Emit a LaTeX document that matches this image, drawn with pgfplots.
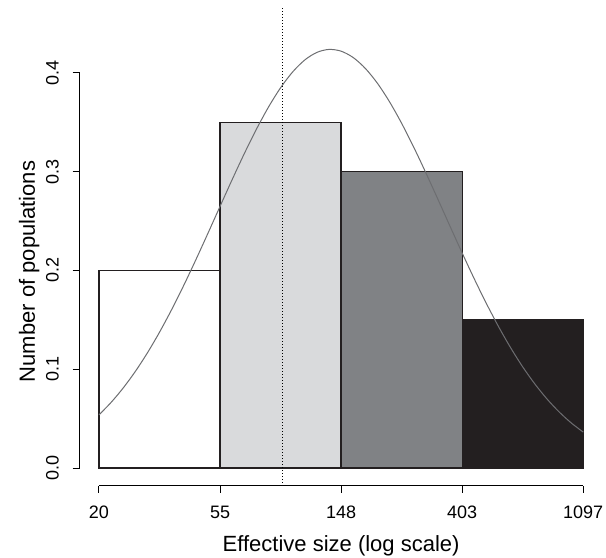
\documentclass[border=0pt]{standalone}
\usepackage{pgfplots}
\pgfplotsset{compat=1.18}
\usepackage{fontspec}
\setmainfont{Liberation Sans}
\definecolor{lightbar}{HTML}{D9DADC}
\definecolor{midbar}{HTML}{808285}
\definecolor{darkbar}{HTML}{231F20}
\definecolor{curvegray}{HTML}{6D6E71}
\begin{document}
\begin{tikzpicture}
\begin{axis}[
  scale only axis,
  width=261.5pt, height=214.5pt,
  xmin=2.84, xmax=7.16,
  ymin=-0.0182, ymax=0.416,
  clip=false,
  axis lines*=left,
  axis line style={draw=none},
  tick align=outside,
  major tick length=3.5pt,
  tick style={black, line width=0.5pt},
  xtick={3,4,5,6,7},
  xticklabels={20,55,148,403,1097},
  ytick={0,0.1,0.2,0.3,0.4},
  yticklabels={0.0,0.1,0.2,0.3,0.4},
  tick label style={font=\fontsize{9}{10}\selectfont},
  every x tick label/.style={anchor=base, yshift=-13pt},
  every y tick label/.style={rotate=90, anchor=base, yshift=7pt},
  xlabel={Effective size (log scale)},
  ylabel={Number of populations},
  every axis x label/.style={at={([yshift=-32.9pt]axis description cs:0.5,0)}, anchor=base, font=\fontsize{11}{13}\selectfont},
  every axis y label/.style={at={([xshift=-22.3pt]axis description cs:0,0.5)}, rotate=90, anchor=base, font=\fontsize{11}{13}\selectfont},
]
% axis lines (R style)
\addplot[black, line width=0.5pt] coordinates {(3,-0.0182) (7,-0.0182)};
\addplot[black, line width=0.5pt] coordinates {(2.84,0) (2.84,0.4)};
% histogram bars
\addplot[fill=white, draw=darkbar, line width=0.65pt] coordinates {(3,0) (3,0.2) (4,0.2) (4,0)} -- cycle;
\addplot[fill=lightbar, draw=darkbar, line width=0.65pt] coordinates {(4,0) (4,0.35) (5,0.35) (5,0)} -- cycle;
\addplot[fill=midbar, draw=darkbar, line width=0.65pt] coordinates {(5,0) (5,0.30) (6,0.30) (6,0)} -- cycle;
\addplot[fill=darkbar, draw=darkbar, line width=0.65pt] coordinates {(6,0) (6,0.15) (7,0.15) (7,0)} -- cycle;
% fitted normal curve
\addplot[curvegray, line width=0.5pt, smooth] coordinates {
(3.0,0.05380) (3.1,0.06638) (3.2,0.08098) (3.3,0.09769) (3.4,0.11653)
(3.5,0.13743) (3.6,0.16027) (3.7,0.18480) (3.8,0.21071) (3.9,0.23755)
(4.0,0.26479) (4.1,0.29187) (4.2,0.31809) (4.3,0.34279) (4.4,0.36527)
(4.5,0.38484) (4.6,0.40091) (4.7,0.41299) (4.8,0.42066) (4.9,0.42366)
(5.0,0.42190) (5.1,0.41543) (5.2,0.40447) (5.3,0.38939) (5.4,0.37066)
(5.5,0.34887) (5.6,0.32469) (5.7,0.29880) (5.8,0.27189) (5.9,0.24461)
(6.0,0.21762) (6.1,0.19143) (6.2,0.16650) (6.3,0.14321) (6.4,0.12177)
(6.5,0.10238) (6.6,0.08513) (6.7,0.06999) (6.8,0.05689) (6.9,0.04573)
(7.0,0.03634)};
% dotted reference line
\addplot[black, line width=0.5pt, dash pattern=on 0.5pt off 1pt] coordinates {(4.514,-0.0182) (4.514,0.4666)};
\end{axis}
\pgfresetboundingbox
\path[use as bounding box] ([shift={(-39.8pt,-36pt)}]current axis.south west) rectangle ([shift={(1.7pt,28.5pt)}]current axis.north east);
\end{tikzpicture}
\end{document}
